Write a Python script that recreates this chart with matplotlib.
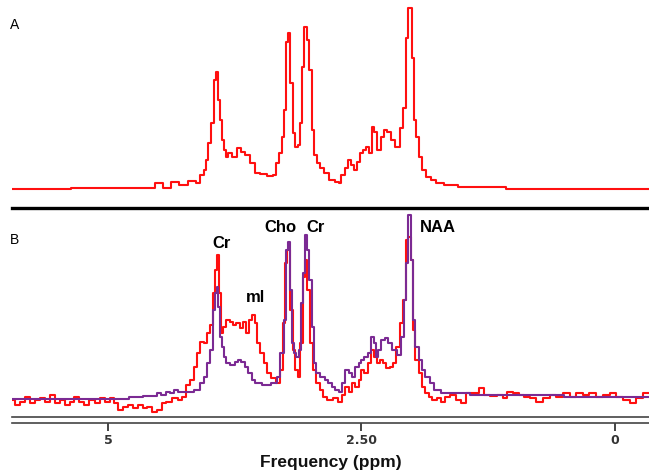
import matplotlib.pyplot as plt
import numpy as np

# Spectrum A (single acquisition, red)
ppm_a = [5.95, 4.78, 4.59, 4.49, 4.42, 4.34, 4.26, 4.16, 4.11, 4.07, 4.04, 4.02, 4.00, 3.97,
         3.95, 3.92, 3.91, 3.89, 3.87, 3.85, 3.83, 3.80, 3.75, 3.70, 3.67, 3.62, 3.57, 3.53,
         3.47, 3.40, 3.35, 3.33, 3.30, 3.27, 3.26, 3.23, 3.21, 3.19, 3.17, 3.14, 3.12, 3.10,
         3.08, 3.05, 3.03, 3.00, 2.98, 2.95, 2.93, 2.89, 2.84, 2.79, 2.74, 2.71, 2.69, 2.64,
         2.62, 2.59, 2.56, 2.53, 2.50, 2.47, 2.44, 2.41, 2.39, 2.36, 2.33, 2.29, 2.26, 2.23,
         2.19, 2.14, 2.10, 2.07, 2.05, 2.02, 1.99, 1.97, 1.95, 1.92, 1.89, 1.84, 1.79, 1.73,
         1.63, 1.46, 1.33, 1.08, 1.07, -0.34]
int_a = [1, 2, 2, 7, 2, 8, 5, 9, 7, 15, 20, 30, 47, 67,
         110, 118, 90, 70, 50, 40, 33, 37, 33, 42, 38, 35, 27, 17,
         16, 14, 15, 27, 37, 53, 80, 148, 157, 107, 57, 43, 45, 67,
         123, 163, 150, 120, 60, 35, 27, 22, 17, 10, 8, 7, 15, 22,
         30, 25, 20, 28, 37, 40, 43, 37, 63, 58, 40, 53, 60, 58,
         50, 43, 62, 82, 152, 182, 132, 70, 53, 33, 20, 13, 10, 7,
         5, 3, 3, 3, 1, 1]

# Spectrum B, measured (red)
ppm_b = [5.95, 5.90, 5.85, 5.80, 5.75, 5.70, 5.65, 5.60, 5.55, 5.50, 5.45, 5.40, 5.36, 5.31,
         5.26, 5.21, 5.16, 5.11, 5.06, 5.01, 4.96, 4.93, 4.88, 4.83, 4.78, 4.73, 4.68, 4.64,
         4.59, 4.54, 4.49, 4.45, 4.40, 4.34, 4.29, 4.26, 4.21, 4.17, 4.14, 4.11, 4.07, 4.04,
         4.01, 3.97, 3.96, 3.93, 3.92, 3.90, 3.88, 3.85, 3.82, 3.78, 3.75, 3.72, 3.68, 3.65,
         3.62, 3.59, 3.57, 3.54, 3.52, 3.48, 3.45, 3.42, 3.37, 3.32, 3.28, 3.26, 3.24, 3.22,
         3.19, 3.17, 3.14, 3.12, 3.09, 3.07, 3.05, 3.03, 2.99, 2.96, 2.93, 2.89, 2.86, 2.81,
         2.76, 2.71, 2.68, 2.64, 2.61, 2.58, 2.54, 2.51, 2.49, 2.45, 2.42, 2.39, 2.36, 2.34,
         2.30, 2.27, 2.24, 2.20, 2.17, 2.14, 2.10, 2.07, 2.05, 2.03, 2.00, 1.99, 1.95, 1.92,
         1.89, 1.85, 1.82, 1.78, 1.73, 1.70, 1.65, 1.60, 1.53, 1.50, 1.43, 1.36, 1.31, 1.26,
         1.20, 1.13, 1.08, 1.04, 0.97, 0.92, 0.86, 0.81, 0.74, 0.67, 0.61, 0.54, 0.47, 0.41,
         0.35, 0.28, 0.22, 0.15, 0.08, 0.02, -0.05, -0.12, -0.18, -0.25, -0.32, -0.34]
int_b = [-2, -7, -4, 1, -5, -2, 0, -4, 3, -5, -2, -7, -4, 1,
         -4, -7, -2, -5, 0, -4, 0, -5, -12, -9, -7, -10, -7, -10,
         -9, -14, -12, -5, -4, 0, -2, 1, 13, 18, 31, 45, 56, 55,
         65, 73, 105, 128, 143, 105, 65, 71, 78, 76, 73, 75, 70, 76,
         65, 78, 83, 75, 55, 45, 35, 25, 20, 15, 28, 75, 135, 148,
         88, 48, 28, 21, 55, 121, 138, 108, 55, 28, 15, 8, 1, -2,
         0, -4, 3, 11, 6, 15, 11, 18, 28, 25, 35, 48, 41, 35,
         38, 35, 30, 31, 35, 51, 75, 98, 158, 161, 138, 68, 38, 25,
         11, 5, 1, -2, 0, -4, 1, 3, -2, -5, 5, 5, 10, 3,
         2, 3, 0, 6, 5, 3, 1, 0, -4, 0, 3, 1, 5, 1,
         5, 3, 5, 1, 3, 5, 1, -2, -5, 0, 5, 5]

# Spectrum B, fitted (purple)
ppm_fit = [5.95, 4.81, 4.78, 4.54, 4.50, 4.45, 4.40, 4.37, 4.34, 4.29, 4.19, 4.12, 4.07, 4.04,
           4.01, 3.97, 3.96, 3.93, 3.92, 3.91, 3.89, 3.87, 3.85, 3.82, 3.77, 3.73, 3.70, 3.67,
           3.63, 3.60, 3.57, 3.53, 3.43, 3.35, 3.32, 3.28, 3.25, 3.23, 3.21, 3.20, 3.18, 3.16,
           3.13, 3.11, 3.08, 3.07, 3.05, 3.03, 3.00, 2.98, 2.96, 2.93, 2.88, 2.84, 2.81, 2.78,
           2.74, 2.71, 2.68, 2.64, 2.61, 2.58, 2.54, 2.51, 2.49, 2.45, 2.42, 2.39, 2.37, 2.35,
           2.32, 2.29, 2.25, 2.22, 2.17, 2.12, 2.09, 2.07, 2.05, 2.03, 2.00, 1.99, 1.95, 1.92,
           1.89, 1.85, 1.80, 1.76, 1.66, 1.53, 1.33, -0.34]
int_fit = [-1, -1, 1, 2, 5, 3, 6, 5, 8, 6, 6, 8, 15, 21,
           35, 48, 88, 105, 111, 91, 61, 51, 41, 35, 33, 36, 38, 36,
           31, 25, 18, 15, 13, 15, 21, 45, 78, 148, 156, 108, 55, 45,
           41, 48, 95, 125, 163, 148, 118, 71, 35, 25, 21, 18, 15, 11,
           8, 6, 15, 28, 25, 21, 31, 35, 38, 41, 45, 61, 55, 41,
           48, 58, 60, 55, 48, 43, 61, 98, 135, 183, 138, 78, 51, 38,
           28, 21, 15, 8, 5, 5, 3, 1]

peak_names = ["Cr", "ml", "Cho", "Cr", "NAA"]
peak_ppm = [3.88, 3.55, 3.30, 2.95, 1.74]
peak_h = [155, 100, 171, 171, 171]

tick_ppm = [5, 2.5, 0]
tick_text = ["5", "2.50", "0"]

rojo = "#ff1010"
morado = "#7b2a93"

fig = plt.figure(figsize=(6.49, 4.75), dpi=100)
W, H = 649, 475

ax1 = fig.add_axes([12 / W, 1 - 208 / H, 1 - 12 / W, 208 / H])
ax2 = fig.add_axes([12 / W, 1 - 423 / H, 1 - 12 / W, (423 - 211) / H])

# Panel A
ax1.plot(ppm_a, int_a, color=rojo, lw=1.5, drawstyle="steps-mid")
ax1.set_xlim(5.95, -0.34)
ax1.set_ylim(-18, 190)
for s in ["top", "left", "right"]:
    ax1.spines[s].set_visible(False)
ax1.spines["bottom"].set_linewidth(2.4)
ax1.spines["bottom"].set_color("black")
ax1.set_xticks([])
ax1.set_yticks([])

# Panel B
ax2.plot(ppm_b, int_b, color=rojo, lw=1.5, drawstyle="steps-mid")
ax2.plot(ppm_fit, int_fit, color=morado, lw=1.5, drawstyle="steps-mid")
ax2.set_xlim(5.95, -0.34)
ax2.set_ylim(-25, 187)
for s in ["top", "left", "right"]:
    ax2.spines[s].set_visible(False)
ax2.spines["bottom"].set_linewidth(1.2)
ax2.spines["bottom"].set_color("#444444")
# segunda linha do eixo
ax2.plot([0, 1], [6 / 212, 6 / 212], transform=ax2.transAxes, color="#444444",
         lw=1.2, clip_on=False)
ax2.set_yticks([])
ax2.set_xticks(tick_ppm)
ax2.set_xticklabels(tick_text, fontsize=9, fontweight="bold", color="#333333")
ax2.tick_params(axis="x", direction="out", length=6, width=1.4, color="#444444", pad=2)
ax2.set_xlabel("Frequency (ppm)", fontsize=12.5, fontweight="bold",
               family="Liberation Sans", labelpad=6, color="#111111")

for nome, x, y in zip(peak_names, peak_ppm, peak_h):
    ax2.text(x, y, nome, ha="center", va="center", fontsize=12, fontweight="bold",
             family="Liberation Sans")

fig.text(10 / W, 1 - 25 / H, "A", fontsize=10, family="Liberation Sans", va="center")
fig.text(10 / W, 1 - 240 / H, "B", fontsize=10, family="Liberation Sans", va="center")

fig.savefig("out.png", dpi=100)
